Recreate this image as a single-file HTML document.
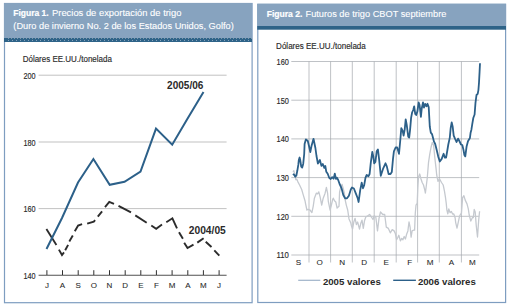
<!DOCTYPE html>
<html><head><meta charset="utf-8"><style>
html,body{margin:0;padding:0;background:#fff;width:509px;height:306px;overflow:hidden}
svg{display:block;font-family:"Liberation Sans",sans-serif}
</style></head><body>
<svg width="509" height="306" viewBox="0 0 509 306">
<rect x="4.5" y="3.5" width="247.6" height="299.2" fill="#fff" stroke="#7e9dc0" stroke-width="1.2"/>
<rect x="4" y="3" width="248" height="35" fill="#87a3bf"/>
<rect x="4" y="38" width="248" height="4" fill="#2e6388"/>
<rect x="257.8" y="4.3" width="247.8" height="298.2" fill="#fff" stroke="#7e9dc0" stroke-width="1.2"/>
<rect x="257.2" y="3.8" width="248.8" height="22.2" fill="#87a3bf"/>
<rect x="257.2" y="26" width="248.8" height="3.7" fill="#2e6388"/>
<rect x="8" y="40" width="1" height="1" fill="#86a3bc"/><rect x="12" y="40" width="1" height="1" fill="#86a3bc"/><rect x="16" y="40" width="1" height="1" fill="#86a3bc"/><rect x="20" y="40" width="1" height="1" fill="#86a3bc"/><rect x="24" y="40" width="1" height="1" fill="#86a3bc"/><rect x="28" y="40" width="1" height="1" fill="#86a3bc"/><rect x="32" y="40" width="1" height="1" fill="#86a3bc"/><rect x="36" y="40" width="1" height="1" fill="#86a3bc"/><rect x="40" y="40" width="1" height="1" fill="#86a3bc"/><rect x="44" y="40" width="1" height="1" fill="#86a3bc"/><rect x="48" y="40" width="1" height="1" fill="#86a3bc"/><rect x="52" y="40" width="1" height="1" fill="#86a3bc"/><rect x="56" y="40" width="1" height="1" fill="#86a3bc"/><rect x="60" y="40" width="1" height="1" fill="#86a3bc"/><rect x="64" y="40" width="1" height="1" fill="#86a3bc"/><rect x="68" y="40" width="1" height="1" fill="#86a3bc"/><rect x="72" y="40" width="1" height="1" fill="#86a3bc"/><rect x="76" y="40" width="1" height="1" fill="#86a3bc"/><rect x="80" y="40" width="1" height="1" fill="#86a3bc"/><rect x="84" y="40" width="1" height="1" fill="#86a3bc"/><rect x="88" y="40" width="1" height="1" fill="#86a3bc"/><rect x="92" y="40" width="1" height="1" fill="#86a3bc"/><rect x="96" y="40" width="1" height="1" fill="#86a3bc"/><rect x="100" y="40" width="1" height="1" fill="#86a3bc"/><rect x="104" y="40" width="1" height="1" fill="#86a3bc"/><rect x="108" y="40" width="1" height="1" fill="#86a3bc"/><rect x="112" y="40" width="1" height="1" fill="#86a3bc"/><rect x="116" y="40" width="1" height="1" fill="#86a3bc"/><rect x="120" y="40" width="1" height="1" fill="#86a3bc"/><rect x="124" y="40" width="1" height="1" fill="#86a3bc"/><rect x="128" y="40" width="1" height="1" fill="#86a3bc"/><rect x="132" y="40" width="1" height="1" fill="#86a3bc"/><rect x="136" y="40" width="1" height="1" fill="#86a3bc"/><rect x="140" y="40" width="1" height="1" fill="#86a3bc"/><rect x="144" y="40" width="1" height="1" fill="#86a3bc"/><rect x="148" y="40" width="1" height="1" fill="#86a3bc"/><rect x="152" y="40" width="1" height="1" fill="#86a3bc"/><rect x="156" y="40" width="1" height="1" fill="#86a3bc"/><rect x="160" y="40" width="1" height="1" fill="#86a3bc"/><rect x="164" y="40" width="1" height="1" fill="#86a3bc"/><rect x="168" y="40" width="1" height="1" fill="#86a3bc"/><rect x="172" y="40" width="1" height="1" fill="#86a3bc"/><rect x="176" y="40" width="1" height="1" fill="#86a3bc"/><rect x="180" y="40" width="1" height="1" fill="#86a3bc"/><rect x="184" y="40" width="1" height="1" fill="#86a3bc"/><rect x="188" y="40" width="1" height="1" fill="#86a3bc"/><rect x="192" y="40" width="1" height="1" fill="#86a3bc"/><rect x="196" y="40" width="1" height="1" fill="#86a3bc"/><rect x="200" y="40" width="1" height="1" fill="#86a3bc"/><rect x="204" y="40" width="1" height="1" fill="#86a3bc"/><rect x="208" y="40" width="1" height="1" fill="#86a3bc"/><rect x="212" y="40" width="1" height="1" fill="#86a3bc"/><rect x="216" y="40" width="1" height="1" fill="#86a3bc"/><rect x="220" y="40" width="1" height="1" fill="#86a3bc"/><rect x="224" y="40" width="1" height="1" fill="#86a3bc"/><rect x="228" y="40" width="1" height="1" fill="#86a3bc"/><rect x="232" y="40" width="1" height="1" fill="#86a3bc"/><rect x="236" y="40" width="1" height="1" fill="#86a3bc"/><rect x="240" y="40" width="1" height="1" fill="#86a3bc"/><rect x="244" y="40" width="1" height="1" fill="#86a3bc"/><rect x="248" y="40" width="1" height="1" fill="#86a3bc"/><rect x="8" y="38" width="1" height="1" fill="#7f98aa"/><rect x="11" y="38" width="1" height="1" fill="#7f98aa"/><rect x="14" y="38" width="1" height="1" fill="#7f98aa"/><rect x="17" y="38" width="1" height="1" fill="#7f98aa"/><rect x="20" y="38" width="1" height="1" fill="#7f98aa"/><rect x="23" y="38" width="1" height="1" fill="#7f98aa"/><rect x="26" y="38" width="1" height="1" fill="#7f98aa"/><rect x="29" y="38" width="1" height="1" fill="#7f98aa"/><rect x="32" y="38" width="1" height="1" fill="#7f98aa"/><rect x="35" y="38" width="1" height="1" fill="#7f98aa"/><rect x="38" y="38" width="1" height="1" fill="#7f98aa"/><rect x="41" y="38" width="1" height="1" fill="#7f98aa"/><rect x="44" y="38" width="1" height="1" fill="#7f98aa"/><rect x="47" y="38" width="1" height="1" fill="#7f98aa"/><rect x="50" y="38" width="1" height="1" fill="#7f98aa"/><rect x="53" y="38" width="1" height="1" fill="#7f98aa"/><rect x="56" y="38" width="1" height="1" fill="#7f98aa"/><rect x="59" y="38" width="1" height="1" fill="#7f98aa"/><rect x="62" y="38" width="1" height="1" fill="#7f98aa"/><rect x="65" y="38" width="1" height="1" fill="#7f98aa"/><rect x="68" y="38" width="1" height="1" fill="#7f98aa"/><rect x="71" y="38" width="1" height="1" fill="#7f98aa"/><rect x="74" y="38" width="1" height="1" fill="#7f98aa"/><rect x="77" y="38" width="1" height="1" fill="#7f98aa"/><rect x="80" y="38" width="1" height="1" fill="#7f98aa"/><rect x="83" y="38" width="1" height="1" fill="#7f98aa"/><rect x="86" y="38" width="1" height="1" fill="#7f98aa"/><rect x="89" y="38" width="1" height="1" fill="#7f98aa"/><rect x="92" y="38" width="1" height="1" fill="#7f98aa"/><rect x="95" y="38" width="1" height="1" fill="#7f98aa"/><rect x="98" y="38" width="1" height="1" fill="#7f98aa"/><rect x="101" y="38" width="1" height="1" fill="#7f98aa"/><rect x="104" y="38" width="1" height="1" fill="#7f98aa"/><rect x="107" y="38" width="1" height="1" fill="#7f98aa"/><rect x="110" y="38" width="1" height="1" fill="#7f98aa"/><rect x="113" y="38" width="1" height="1" fill="#7f98aa"/><rect x="116" y="38" width="1" height="1" fill="#7f98aa"/><rect x="119" y="38" width="1" height="1" fill="#7f98aa"/><rect x="122" y="38" width="1" height="1" fill="#7f98aa"/><rect x="125" y="38" width="1" height="1" fill="#7f98aa"/><rect x="128" y="38" width="1" height="1" fill="#7f98aa"/><rect x="131" y="38" width="1" height="1" fill="#7f98aa"/><rect x="134" y="38" width="1" height="1" fill="#7f98aa"/><rect x="137" y="38" width="1" height="1" fill="#7f98aa"/><rect x="140" y="38" width="1" height="1" fill="#7f98aa"/><rect x="143" y="38" width="1" height="1" fill="#7f98aa"/><rect x="146" y="38" width="1" height="1" fill="#7f98aa"/><rect x="149" y="38" width="1" height="1" fill="#7f98aa"/><rect x="152" y="38" width="1" height="1" fill="#7f98aa"/><rect x="155" y="38" width="1" height="1" fill="#7f98aa"/><rect x="158" y="38" width="1" height="1" fill="#7f98aa"/><rect x="161" y="38" width="1" height="1" fill="#7f98aa"/><rect x="164" y="38" width="1" height="1" fill="#7f98aa"/><rect x="167" y="38" width="1" height="1" fill="#7f98aa"/><rect x="170" y="38" width="1" height="1" fill="#7f98aa"/><rect x="173" y="38" width="1" height="1" fill="#7f98aa"/><rect x="176" y="38" width="1" height="1" fill="#7f98aa"/><rect x="179" y="38" width="1" height="1" fill="#7f98aa"/><rect x="182" y="38" width="1" height="1" fill="#7f98aa"/><rect x="185" y="38" width="1" height="1" fill="#7f98aa"/><rect x="188" y="38" width="1" height="1" fill="#7f98aa"/><rect x="191" y="38" width="1" height="1" fill="#7f98aa"/><rect x="194" y="38" width="1" height="1" fill="#7f98aa"/><rect x="197" y="38" width="1" height="1" fill="#7f98aa"/><rect x="200" y="38" width="1" height="1" fill="#7f98aa"/><rect x="203" y="38" width="1" height="1" fill="#7f98aa"/><rect x="206" y="38" width="1" height="1" fill="#7f98aa"/><rect x="209" y="38" width="1" height="1" fill="#7f98aa"/><rect x="212" y="38" width="1" height="1" fill="#7f98aa"/><rect x="215" y="38" width="1" height="1" fill="#7f98aa"/><rect x="218" y="38" width="1" height="1" fill="#7f98aa"/><rect x="221" y="38" width="1" height="1" fill="#7f98aa"/><rect x="224" y="38" width="1" height="1" fill="#7f98aa"/><rect x="227" y="38" width="1" height="1" fill="#7f98aa"/><rect x="230" y="38" width="1" height="1" fill="#7f98aa"/><rect x="233" y="38" width="1" height="1" fill="#7f98aa"/><rect x="236" y="38" width="1" height="1" fill="#7f98aa"/><rect x="239" y="38" width="1" height="1" fill="#7f98aa"/><rect x="242" y="38" width="1" height="1" fill="#7f98aa"/><rect x="245" y="38" width="1" height="1" fill="#7f98aa"/><rect x="248" y="38" width="1" height="1" fill="#7f98aa"/><rect x="251" y="38" width="1" height="1" fill="#7f98aa"/>
<text x="13.3" y="16.3" font-size="8.9" fill="#fff" stroke="#fff" stroke-width="0.2" font-weight="bold" textLength="35.4" lengthAdjust="spacingAndGlyphs">Figura 1.</text>
<text x="52" y="16.3" font-size="8.9" fill="#fff" stroke="#fff" stroke-width="0.1" textLength="129.4" lengthAdjust="spacingAndGlyphs">Precios de exportación de trigo</text>
<text x="13.3" y="28.7" font-size="8.9" fill="#fff" stroke="#fff" stroke-width="0.1" textLength="220.5" lengthAdjust="spacingAndGlyphs">(Duro de invierno No. 2 de los Estados Unidos, Golfo)</text>
<text x="266.7" y="16.7" font-size="8.9" fill="#fff" stroke="#fff" stroke-width="0.2" font-weight="bold" textLength="35.7" lengthAdjust="spacingAndGlyphs">Figura 2.</text>
<text x="305.5" y="16.7" font-size="8.9" fill="#fff" stroke="#fff" stroke-width="0.1" textLength="140.9" lengthAdjust="spacingAndGlyphs">Futuros de trigo CBOT septiembre</text>
<text x="22.7" y="61.9" font-size="8.3" fill="#2a2a2a" stroke="#2a2a2a" stroke-width="0.15" textLength="89.2" lengthAdjust="spacingAndGlyphs">Dólares EE.UU./tonelada</text>
<line x1="38.6" y1="75.2" x2="226.6" y2="75.2" stroke="#a8a8a8" stroke-width="0.7"/>
<text x="23.5" y="78.8" font-size="8.3" fill="#2a2a2a" stroke="#2a2a2a" stroke-width="0.15" textLength="12.1" lengthAdjust="spacingAndGlyphs">200</text>
<line x1="38.6" y1="142.0" x2="226.6" y2="142.0" stroke="#a8a8a8" stroke-width="0.7"/>
<text x="23.5" y="145.6" font-size="8.3" fill="#2a2a2a" stroke="#2a2a2a" stroke-width="0.15" textLength="12.1" lengthAdjust="spacingAndGlyphs">180</text>
<line x1="38.6" y1="208.6" x2="226.6" y2="208.6" stroke="#a8a8a8" stroke-width="0.7"/>
<text x="23.5" y="212.2" font-size="8.3" fill="#2a2a2a" stroke="#2a2a2a" stroke-width="0.15" textLength="12.1" lengthAdjust="spacingAndGlyphs">160</text>
<line x1="38.6" y1="275.3" x2="226.6" y2="275.3" stroke="#505050" stroke-width="1.1"/>
<text x="23.5" y="278.8" font-size="8.3" fill="#2a2a2a" stroke="#2a2a2a" stroke-width="0.15" textLength="12.1" lengthAdjust="spacingAndGlyphs">140</text>
<line x1="46.9" y1="270.2" x2="46.9" y2="275" stroke="#303030" stroke-width="1"/>
<text x="46.9" y="288.4" font-size="8" fill="#2a2a2a" stroke="#2a2a2a" stroke-width="0.08" text-anchor="middle">J</text>
<line x1="62.5" y1="270.2" x2="62.5" y2="275" stroke="#303030" stroke-width="1"/>
<text x="62.5" y="288.4" font-size="8" fill="#2a2a2a" stroke="#2a2a2a" stroke-width="0.08" text-anchor="middle">A</text>
<line x1="78.2" y1="270.2" x2="78.2" y2="275" stroke="#303030" stroke-width="1"/>
<text x="78.2" y="288.4" font-size="8" fill="#2a2a2a" stroke="#2a2a2a" stroke-width="0.08" text-anchor="middle">S</text>
<line x1="93.8" y1="270.2" x2="93.8" y2="275" stroke="#303030" stroke-width="1"/>
<text x="93.8" y="288.4" font-size="8" fill="#2a2a2a" stroke="#2a2a2a" stroke-width="0.08" text-anchor="middle">O</text>
<line x1="109.5" y1="270.2" x2="109.5" y2="275" stroke="#303030" stroke-width="1"/>
<text x="109.5" y="288.4" font-size="8" fill="#2a2a2a" stroke="#2a2a2a" stroke-width="0.08" text-anchor="middle">N</text>
<line x1="125.2" y1="270.2" x2="125.2" y2="275" stroke="#303030" stroke-width="1"/>
<text x="125.2" y="288.4" font-size="8" fill="#2a2a2a" stroke="#2a2a2a" stroke-width="0.08" text-anchor="middle">D</text>
<line x1="140.8" y1="270.2" x2="140.8" y2="275" stroke="#303030" stroke-width="1"/>
<text x="140.8" y="288.4" font-size="8" fill="#2a2a2a" stroke="#2a2a2a" stroke-width="0.08" text-anchor="middle">E</text>
<line x1="156.4" y1="270.2" x2="156.4" y2="275" stroke="#303030" stroke-width="1"/>
<text x="156.4" y="288.4" font-size="8" fill="#2a2a2a" stroke="#2a2a2a" stroke-width="0.08" text-anchor="middle">F</text>
<line x1="172.1" y1="270.2" x2="172.1" y2="275" stroke="#303030" stroke-width="1"/>
<text x="172.1" y="288.4" font-size="8" fill="#2a2a2a" stroke="#2a2a2a" stroke-width="0.08" text-anchor="middle">M</text>
<line x1="187.8" y1="270.2" x2="187.8" y2="275" stroke="#303030" stroke-width="1"/>
<text x="187.8" y="288.4" font-size="8" fill="#2a2a2a" stroke="#2a2a2a" stroke-width="0.08" text-anchor="middle">A</text>
<line x1="203.4" y1="270.2" x2="203.4" y2="275" stroke="#303030" stroke-width="1"/>
<text x="203.4" y="288.4" font-size="8" fill="#2a2a2a" stroke="#2a2a2a" stroke-width="0.08" text-anchor="middle">M</text>
<line x1="219.1" y1="270.2" x2="219.1" y2="275" stroke="#303030" stroke-width="1"/>
<text x="219.1" y="288.4" font-size="8" fill="#2a2a2a" stroke="#2a2a2a" stroke-width="0.08" text-anchor="middle">J</text>
<g fill="none" stroke="#2b2b2b" stroke-width="1.9" stroke-linejoin="miter"><polyline points="46.4,229.0 56.4,244.9"/><polyline points="58.9,249.6 62.0,255.0 64.0,252.4"/><polyline points="65.2,250.2 68.1,244.9"/><polyline points="69.3,241.4 72.8,235.5"/><polyline points="74.8,231.2 78.1,225.5 82.1,224.2"/><polyline points="87.2,223.6 93.8,221.6 95.1,220.1"/><polyline points="97.8,216.6 102.1,211.3"/><polyline points="105.0,207.2 109.3,201.9 114.0,203.9"/><polyline points="118.5,205.8 131.0,212.4"/><polyline points="135.3,215.4 146.7,222.8"/><polyline points="151.3,225.5 156.2,228.8 162.0,224.6"/><polyline points="166.3,222.2 172.4,218.3 177.0,228.3"/><polyline points="179.0,232.3 182.9,238.8"/><polyline points="184.2,242.7 187.5,248.0 193.5,244.7"/><polyline points="197.3,242.6 203.6,238.2"/><polyline points="205.7,241.7 211.5,247.0"/><polyline points="214.3,250.4 219.3,255.7"/></g>
<polyline points="46.5,249.0 62.0,218.0 78.0,182.5 93.4,159.0 109.7,184.8 124.5,181.8 140.5,171.7 156.0,128.6 172.2,144.7 187.6,118.5 203.5,91.9" fill="none" stroke="#2c6089" stroke-width="2" stroke-linejoin="miter"/>
<text x="167.1" y="89.1" font-size="10" font-weight="bold" fill="#2a2a2a" textLength="36.3" lengthAdjust="spacingAndGlyphs">2005/06</text>
<text x="188.8" y="234.2" font-size="10" font-weight="bold" fill="#2a2a2a" textLength="37" lengthAdjust="spacingAndGlyphs">2004/05</text>
<text x="276.1" y="49.2" font-size="8.3" fill="#2a2a2a" stroke="#2a2a2a" stroke-width="0.15" textLength="89.7" lengthAdjust="spacingAndGlyphs">Dólares EE.UU./tonelada</text>
<line x1="291.3" y1="61.5" x2="479.2" y2="61.5" stroke="#a3a7ad" stroke-width="0.7"/>
<text x="276.6" y="64.8" font-size="8.3" fill="#2a2a2a" stroke="#2a2a2a" stroke-width="0.15" textLength="12.3" lengthAdjust="spacingAndGlyphs">160</text>
<line x1="291.3" y1="100.2" x2="479.2" y2="100.2" stroke="#a3a7ad" stroke-width="0.7"/>
<text x="276.6" y="103.5" font-size="8.3" fill="#2a2a2a" stroke="#2a2a2a" stroke-width="0.15" textLength="12.3" lengthAdjust="spacingAndGlyphs">150</text>
<line x1="291.3" y1="138.9" x2="479.2" y2="138.9" stroke="#a3a7ad" stroke-width="0.7"/>
<text x="276.6" y="142.2" font-size="8.3" fill="#2a2a2a" stroke="#2a2a2a" stroke-width="0.15" textLength="12.3" lengthAdjust="spacingAndGlyphs">140</text>
<line x1="291.3" y1="177.6" x2="479.2" y2="177.6" stroke="#a3a7ad" stroke-width="0.7"/>
<text x="276.6" y="180.9" font-size="8.3" fill="#2a2a2a" stroke="#2a2a2a" stroke-width="0.15" textLength="12.3" lengthAdjust="spacingAndGlyphs">130</text>
<line x1="291.3" y1="216.3" x2="479.2" y2="216.3" stroke="#a3a7ad" stroke-width="0.7"/>
<text x="276.6" y="219.6" font-size="8.3" fill="#2a2a2a" stroke="#2a2a2a" stroke-width="0.15" textLength="12.3" lengthAdjust="spacingAndGlyphs">120</text>
<line x1="291.3" y1="255.0" x2="479.2" y2="255.0" stroke="#a3a7ad" stroke-width="0.7"/>
<text x="276.6" y="258.3" font-size="8.3" fill="#2a2a2a" stroke="#2a2a2a" stroke-width="0.15" textLength="12.3" lengthAdjust="spacingAndGlyphs">110</text>
<line x1="309.0" y1="61.5" x2="309.0" y2="262.5" stroke="#a3a7ad" stroke-width="0.7"/>
<line x1="330.6" y1="61.5" x2="330.6" y2="262.5" stroke="#a3a7ad" stroke-width="0.7"/>
<line x1="352.3" y1="61.5" x2="352.3" y2="262.5" stroke="#a3a7ad" stroke-width="0.7"/>
<line x1="374.2" y1="61.5" x2="374.2" y2="262.5" stroke="#a3a7ad" stroke-width="0.7"/>
<line x1="396.2" y1="61.5" x2="396.2" y2="262.5" stroke="#a3a7ad" stroke-width="0.7"/>
<line x1="417.6" y1="61.5" x2="417.6" y2="262.5" stroke="#a3a7ad" stroke-width="0.7"/>
<line x1="439.3" y1="61.5" x2="439.3" y2="262.5" stroke="#a3a7ad" stroke-width="0.7"/>
<line x1="461.4" y1="61.5" x2="461.4" y2="262.5" stroke="#a3a7ad" stroke-width="0.7"/>
<text x="298.5" y="264.6" font-size="8.1" fill="#2a2a2a" stroke="#2a2a2a" stroke-width="0.08" text-anchor="middle">S</text>
<text x="319.7" y="264.6" font-size="8.1" fill="#2a2a2a" stroke="#2a2a2a" stroke-width="0.08" text-anchor="middle">O</text>
<text x="342.3" y="264.6" font-size="8.1" fill="#2a2a2a" stroke="#2a2a2a" stroke-width="0.08" text-anchor="middle">N</text>
<text x="364.3" y="264.6" font-size="8.1" fill="#2a2a2a" stroke="#2a2a2a" stroke-width="0.08" text-anchor="middle">D</text>
<text x="386.3" y="264.6" font-size="8.1" fill="#2a2a2a" stroke="#2a2a2a" stroke-width="0.08" text-anchor="middle">E</text>
<text x="409.8" y="264.6" font-size="8.1" fill="#2a2a2a" stroke="#2a2a2a" stroke-width="0.08" text-anchor="middle">F</text>
<text x="430.2" y="264.6" font-size="8.1" fill="#2a2a2a" stroke="#2a2a2a" stroke-width="0.08" text-anchor="middle">M</text>
<text x="451.4" y="264.6" font-size="8.1" fill="#2a2a2a" stroke="#2a2a2a" stroke-width="0.08" text-anchor="middle">A</text>
<text x="472.4" y="264.6" font-size="8.1" fill="#2a2a2a" stroke="#2a2a2a" stroke-width="0.08" text-anchor="middle">M</text>
<polyline points="292.9,171.8 293.9,170.8 294.8,174.7 295.8,179.6 296.8,179.2 297.8,181.6 299.8,185.5 301.7,189.5 303.1,194.4 305,200.7 305.6,203.8 306.9,210 308.1,209.4 310,210 311.9,212.6 313.2,206.3 314.4,198.2 316.3,193.2 317.6,193.8 318.8,191.9 320.1,196.9 321.7,205 323.2,198.2 325.1,193.2 326.4,187.5 327.6,193.2 328.3,201.3 330.1,210 331.4,205 332.7,199.4 333.3,198.2 334.5,200.7 335.8,202 337.1,208 339,206.3 339.6,191.9 340.8,186.9 342.1,184.4 343.3,188.8 344.4,193.2 345,199 346.3,205.1 347.7,210 349,218.9 350.7,222.7 351.5,226 352.6,229 353.8,222 355.1,218.3 356.4,224.6 357.6,222 359.5,229 360.8,223.3 362,220.2 363.3,228.4 364.5,220.8 365.8,217 367.7,215.8 369.6,214.5 371.4,217 373,219.5 374.2,215.8 375.8,217 377.5,230.9 379,218.3 380.5,212 382.8,214.5 384.7,214.5 386.3,227.1 388.4,228.4 390.3,232.8 392.2,229.6 394.1,230.9 395.3,233.4 396.6,239.7 397.9,237.2 398.8,235.3 400.4,240.9 401.7,238.4 402.9,239.7 404.2,236.5 405.4,239 406.7,234 407.9,230.9 409,222 410.1,227.1 411.1,237.2 412.1,230.9 413.4,230.2 414.6,230.2 415.3,213 416,205.2 417.2,203.3 417.8,187.6 418.5,177 419.7,174 421,179 422.2,182.5 423.5,185 424.8,190 425.4,193 426.4,185 427.3,177.5 428.5,162.6 429.8,153.8 431,147.5 432.3,142.5 433.6,145 434.8,157.6 436.1,168.9 436.7,175 438,181.3 439.5,178.8 441.5,182.5 443.2,185 444.5,191.4 445.5,197.6 446.2,203 446.9,210.2 447.8,213.9 448.8,209 450.1,212.7 451.3,211.4 452.6,214 453.8,214 455.1,217.7 455.7,222.6 457,228.2 458.2,222.6 459.5,216.3 460.8,213.8 461.4,213.9 462.6,197.6 463.9,195.7 465.2,200.1 467,203.9 468.3,208.9 469.2,215 470.8,221 472.5,217.5 473.3,217.7 474.2,209.5 475.2,212 476.2,225.1 477.5,237 478.7,220 479.6,211.3" fill="none" stroke="#c5c9cf" stroke-width="1.3" stroke-linejoin="round"/>
<polyline points="293,173.8 294.3,175 295.3,176.7 296.3,175.7 297.3,170.8 298.3,164.9 298.8,160 299.6,157.5 300.2,160 301.2,166.5 302.2,167.5 303.2,163.9 304.2,154 304.6,144.1 305.9,139.3 307.8,141 309,146 310.3,152 311.5,146 313.5,138.8 315.4,148 316.5,156 317.9,163.5 319.9,160 321.4,165.9 322.8,164 324.3,167.9 325.3,166 326.3,171.8 327.7,173.8 329.2,177.7 330.7,179 332.2,177.2 333.6,178.7 334.8,173.6 335.9,178.8 336.9,177.6 338.2,180 339.6,184 341.5,188.1 343.3,195 345.1,198.3 347,198.3 348.9,195.8 350.8,189.5 352,187.5 353.9,188.5 355.8,193.3 357.7,198.3 358.6,202 360.2,190.2 361.7,182.6 363,188.3 364.2,185.1 365.5,177.6 366.7,175 368.4,176.3 369.6,174 370.8,162.6 372.3,152 373.3,156.4 374.2,163.3 375.4,162 376.7,151.3 377.9,149.4 379.2,160.1 380.8,175.8 383,168.9 385.5,163.3 386.8,166.4 388.6,174 390.5,174 391.8,172.1 393,158.9 393.9,151.3 395.6,147.5 397.2,147.5 399,153.8 400.3,140 401.3,128.2 402.6,130.6 403.6,135.5 404.7,129.6 405.7,119.3 406.7,124.7 408.2,136.5 409.2,137.5 410.1,129.6 411.1,117.9 412.1,112.5 413.2,110 414.2,106.3 415.2,113.9 416.2,115 417.4,111.4 418.7,102.5 419.6,105 420.9,116.9 421.7,108.8 423,102.5 424,107.6 425.2,103.8 426.5,106.3 427.5,103.8 428.7,107 429.8,126.7 430.8,132.6 432,134.1 433.2,138.5 433.9,141.4 435.2,144 436.7,150 438.2,156.4 439.8,161.5 441.7,158.9 443.6,153.8 444.9,157.6 446.1,157.6 447.4,150 448.3,144.5 449.8,137.6 450.7,127.8 451.7,122.4 452.7,126.8 453.7,135.6 455.2,139.1 456.6,142 458.1,138.6 459.6,141.5 461,144.5 462.3,145 463.5,150 464.4,155.1 465.3,156.4 466.6,146.4 467.9,141.4 468.4,140.5 469.9,138.1 470.6,132.7 471.4,129.7 472.3,123.8 473.3,118 474.6,114.5 475.5,102.6 476.5,95 477.7,93.8 478.4,90.2 479,82.7 479.6,71.4 480,63.2" fill="none" stroke="#2c6089" stroke-width="1.8" stroke-linejoin="round"/>
<line x1="298.2" y1="280.3" x2="320.3" y2="280.3" stroke="#9fb3c9" stroke-width="1.2"/>
<text x="322.9" y="284.8" font-size="9.9" font-weight="bold" fill="#2a2a2a" textLength="57.9" lengthAdjust="spacingAndGlyphs">2005 valores</text>
<line x1="393.2" y1="280.3" x2="415.9" y2="280.3" stroke="#2c6089" stroke-width="1.4"/>
<text x="417.9" y="284.8" font-size="9.9" font-weight="bold" fill="#2a2a2a" textLength="57.9" lengthAdjust="spacingAndGlyphs">2006 valores</text>
</svg>
</body></html>
